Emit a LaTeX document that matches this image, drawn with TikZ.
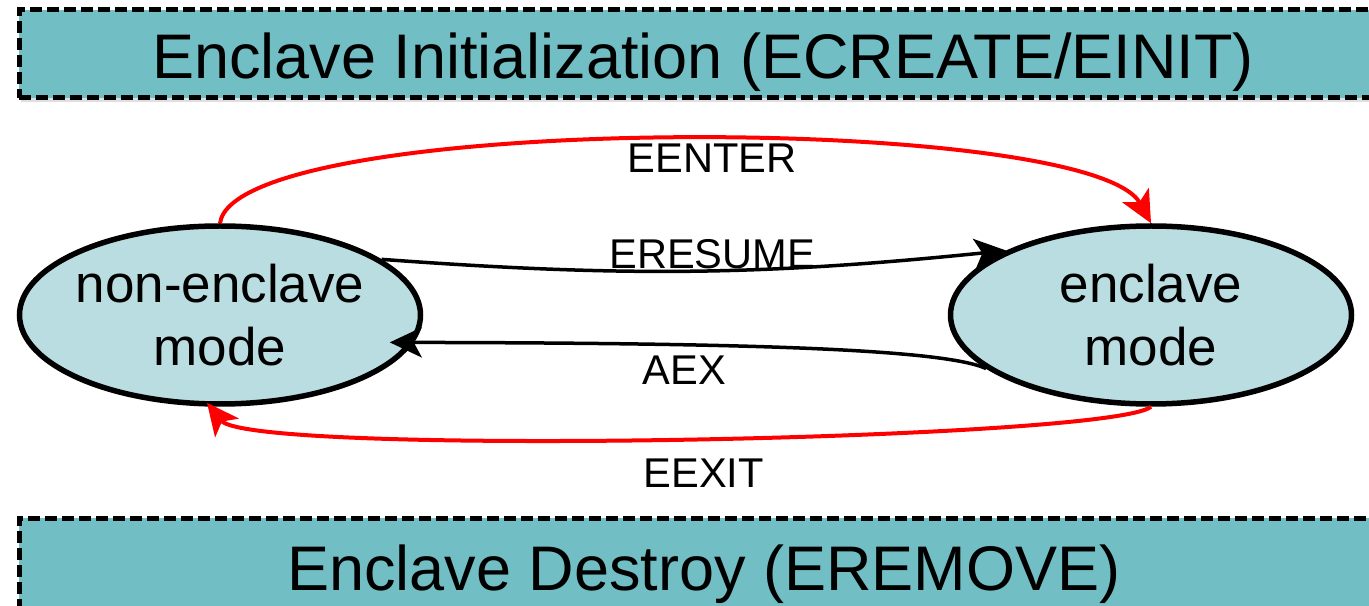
\documentclass[tikz,border=0pt]{standalone}
\usepackage{fontspec}
\setmainfont{Liberation Sans}
\usetikzlibrary{shapes.geometric,arrows.meta,shadows}

\definecolor{barteal}{RGB}{113,190,196}
\definecolor{modeblue}{RGB}{185,221,225}

\tikzstyle{phasebar} = [draw, rectangle, fill=barteal, line width=2.5pt, dash pattern=on 6pt off 2.5pt, inner sep=0pt, minimum width=685pt, drop shadow={shadow xshift=1pt, shadow yshift=-2pt, opacity=0.25}]
\tikzstyle{phasetext} = [anchor=base, inner sep=0pt, font=\fontsize{31.5}{36}\selectfont]
\tikzstyle{modestate} = [draw, ellipse, fill=modeblue, line width=2.75pt, minimum width=200.5pt, minimum height=89pt, inner xsep=-1.5pt, inner ysep=0pt, align=center, font=\fontsize{26.5}{31.5}\selectfont]
\tikzstyle{trans} = [line width=1.75pt, -{Stealth[length=16pt, width=15pt, inset=4pt]}]
\tikzstyle{redtrans} = [trans, red, line width=2pt]
\tikzstyle{translabel} = [anchor=base, inner sep=0pt, text=black, font=\fontsize{20.8}{25}\selectfont]

\begin{document}
\begin{tikzpicture}[x=0.5pt, y=0.5pt]
    \useasboundingbox (0,0) rectangle (1369,605);
    \clip (0,0) rectangle (1369,605);
    \node [phasebar, minimum height=44pt] (init) at (704,551) {};
    \node [phasetext] (inittext) at (703,526) {Enclave Initialization (ECREATE/EINIT)};
    \node [phasebar, minimum height=68.5pt] (destroy) at (704,18.5) {};
    \node [phasetext] (destroytext) at (704,15) {Enclave Destroy (EREMOVE)};

    \node [modestate] (nonenc) at (220,290) {non-enclave\\mode};
    \node [modestate] (enc) at (1151,290) {enclave\\mode};

    \draw [redtrans] (nonenc.north) .. controls (235,493) and (1090,493) .. (enc.north)
        node [translabel, pos=0.5, xshift=22pt, yshift=-16.5pt] (eenter) {EENTER};
    \draw [trans] (nonenc.19) to [bend right=5]
        node [translabel, pos=0.5, xshift=9pt, yshift=1.25pt] (eresume) {ERESUME} (enc.156);
    \draw [trans] (enc.198) .. controls (940,258) and (700,262) .. ([xshift=-11pt, yshift=1.5pt]nonenc.-9)
        node [translabel, pos=0.65, yshift=-20pt] (aex) {AEX};
    \draw [redtrans] (enc.south) .. controls (1110,165) and (250,148) .. ([xshift=-6.5pt, yshift=2pt]nonenc.south)
        node [translabel, pos=0.5, xshift=12pt, yshift=-24.75pt] (eexit) {EEXIT};
\end{tikzpicture}
\end{document}
